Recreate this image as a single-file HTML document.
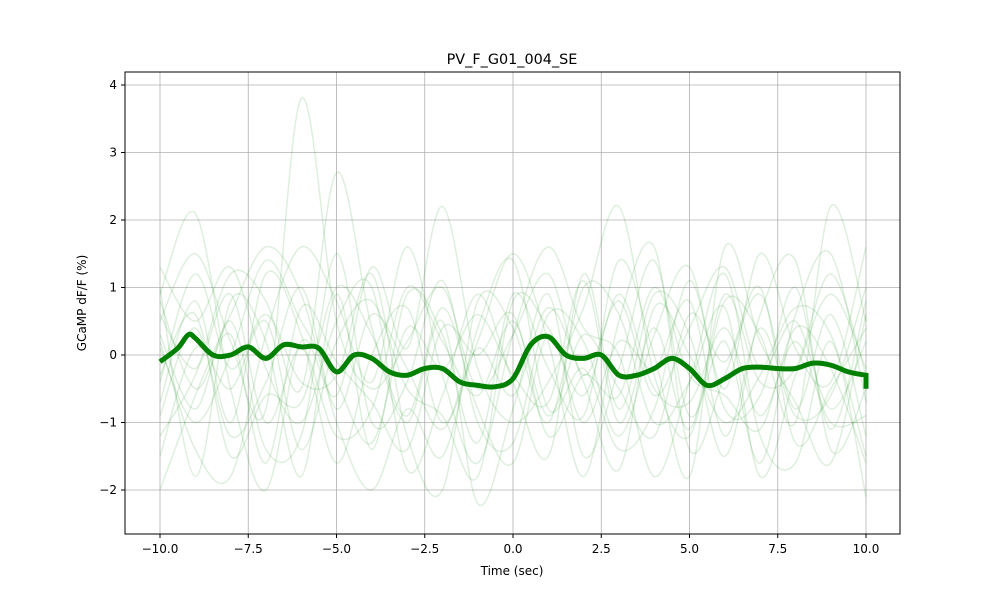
<!DOCTYPE html>
<html><head><meta charset="utf-8"><style>
body{margin:0;background:#fff;font-family:"Liberation Sans","DejaVu Sans",sans-serif}
svg text{font-family:"DejaVu Sans","Liberation Sans",sans-serif;font-size:12px;fill:#000}
</style></head><body>
<svg id="chart" width="1000" height="600">
<rect width="1000" height="600" fill="#fff"/>
<g id="grid"></g><g id="traces"></g><g id="mean"></g>
<rect x="125" y="72" width="775" height="462" fill="none" stroke="#000" stroke-width="1"/>
<g id="ticks"></g>
<text x="512" y="64" text-anchor="middle" style="font-size:14.4px">PV_F_G01_004_SE</text>
<text x="512" y="575" text-anchor="middle">Time (sec)</text>
<text transform="translate(86,303) rotate(-90)" text-anchor="middle">GCaMP dF/F (%)</text>
</svg>
<script>
const xTicks=[-10,-7.5,-5,-2.5,0,2.5,5,7.5,10];
const yTicks=[-2,-1,0,1,2,3,4];
const meanT=[-10,-9.5,-9.2,-9,-8.5,-8,-7.5,-7,-6.5,-6,-5.5,-5,-4.5,-4,-3.5,-3,-2.5,-2,-1.5,-1,-0.5,0,0.5,1,1.5,2,2.5,3,3.5,4,4.5,5,5.5,6,6.5,7,7.5,8,8.5,9,9.5,10];
const meanV=[-0.1,0.1,0.3,0.25,0.0,0.0,0.12,-0.05,0.15,0.12,0.1,-0.25,0.0,-0.05,-0.25,-0.3,-0.2,-0.2,-0.4,-0.45,-0.47,-0.35,0.15,0.27,0.0,-0.05,0.0,-0.3,-0.3,-0.2,-0.05,-0.2,-0.45,-0.35,-0.2,-0.18,-0.2,-0.2,-0.12,-0.15,-0.25,-0.3];
const trialT=[-10,-9,-8,-7,-6,-5,-4,-3,-2,-1,0,1,2,3,4,5,6,7,8,9,10];
const trial1=[0.5,1.5,0.2,-0.8,3.8,0.5,-0.5,0.2,1.0,-0.5,0.3,1.2,-0.3,0.8,-0.6,0.4,1.3,-0.2,0.5,-0.8,0.2];
const trial2=[-1.2,-0.3,1.2,0.8,-0.5,2.7,0.4,-1.0,0.5,-2.2,-0.8,0.9,-1.5,-0.2,1.4,-0.9,0.2,-1.6,0.6,1.5,-0.7];
const trial3=[0.9,2.1,-0.5,-2.0,0.2,-0.6,1.3,0.1,2.2,-0.2,-1.0,-0.4,0.7,2.2,-0.3,-1.2,0.8,0.3,-1.0,2.2,0.5];
const trial4=[-2.0,-0.6,0.6,1.6,0.9,-1.0,-2.0,-0.8,-1.5,0.4,1.4,-0.8,-0.2,-1.4,-0.8,1.1,-0.5,1.5,0.1,-0.4,1.6];
const trial5=[0.2,-1.4,-1.8,0.3,1.6,0.8,-0.4,1.6,-0.3,-1.6,0.3,1.6,0.4,0.0,-1.8,-0.4,1.2,-1.2,-1.6,0.2,-2.1];
const trial6=[1.3,0.5,1.3,-0.2,-1.0,0.5,1.0,-1.7,-0.6,0.9,-0.4,-1.5,1.2,-0.8,0.9,0.3,-1.5,0.6,1.4,-1.4,-0.5];
const trial7=[-0.7,0.8,-1.0,1.2,0.3,-1.6,0.0,0.7,-1.0,0.2,1.5,0.2,-1.8,0.5,1.6,-1.4,-0.3,0.9,-0.8,0.6,-1.2];
const trial8=[0.3,-0.8,0.5,-1.4,-1.2,1.5,-1.0,-0.4,1.1,-1.0,-1.3,0.6,0.2,-1.2,0.3,1.3,-0.8,-0.6,1.0,-1.1,0.8];
const trial9=[-0.4,1.2,-0.2,0.6,-0.4,-0.3,1.2,-1.2,-2.0,0.8,0.4,-1.0,1.0,0.6,-1.0,-0.4,0.7,-1.8,-0.3,0.9,-0.2];
const trial10=[1.0,-1.8,0.8,0.2,-1.8,0.9,-1.4,0.9,0.3,-1.3,0.9,-0.2,-0.9,1.4,0.0,-1.8,1.6,0.2,-0.7,-1.6,0.6];
const trial11=[-0.9,0.4,-1.2,-0.4,1.0,-0.8,0.6,-0.2,-1.1,0.1,-0.6,0.7,-0.4,-1.7,0.7,0.0,-1.0,-0.3,0.7,0.3,-1.5];
const trial12=[0.6,-0.2,0.9,-1.0,0.1,-1.2,-0.8,1.0,0.2,-0.6,0.5,-0.9,0.3,-0.5,-1.2,0.6,-0.1,1.0,-1.3,-0.5,0.4];
const trial13=[-1.5,0.1,-0.5,0.5,-1.4,0.2,0.8,-0.5,-0.9,-1.8,0.8,0.4,-0.6,0.9,-0.5,-0.7,0.4,-0.9,0.2,-1.0,-0.9];
const trial14=[0.1,-1.0,0.0,1.4,0.5,-0.4,-1.3,0.4,-0.2,0.6,-0.3,-0.7,1.1,-1.0,0.4,-1.1,0.9,-0.4,-0.2,1.2,-0.3];
const trial15=[-0.3,0.6,-1.5,-0.6,-0.7,1.0,0.3,-0.9,0.7,-0.8,-1.6,0.3,-1.0,0.2,-0.2,0.8,-1.2,0.4,-0.9,-0.6,1.0];
const trial16=[0.8,-0.5,0.3,-1.6,0.7,-0.1,-0.7,-1.4,0.4,0.0,0.6,-1.2,-0.3,-0.6,1.0,-0.3,-0.6,-1.1,0.4,-0.2,-1.6];
const trials=[trial1,trial2,trial3,trial4,trial5,trial6,trial7,trial8,trial9,trial10,trial11,trial12,trial13,trial14,trial15,trial16];
const X=t=>160+(t+10)*(866-160)/20;
const Y=v=>355-v*67.5;
const NS='http://www.w3.org/2000/svg';
function mk(tag,attrs,parent){const e=document.createElementNS(NS,tag);for(const k in attrs)e.setAttribute(k,attrs[k]);parent.appendChild(e);return e;}
function smooth(ts,vs){const p=ts.map((t,i)=>[X(t),Y(vs[i])]);let d='M'+p[0][0]+','+p[0][1];
for(let i=0;i<p.length-1;i++){const p0=p[Math.max(0,i-1)],p1=p[i],p2=p[i+1],p3=p[Math.min(p.length-1,i+2)];
d+=' C'+(p1[0]+(p2[0]-p0[0])/6)+','+(p1[1]+(p2[1]-p0[1])/6)+' '+(p2[0]-(p3[0]-p1[0])/6)+','+(p2[1]-(p3[1]-p1[1])/6)+' '+p2[0]+','+p2[1];}return d;}
const grid=document.getElementById('grid'),ticks=document.getElementById('ticks');
xTicks.forEach(t=>{
const g=mk('line',{x1:X(t),x2:X(t),y1:72,y2:534,stroke:'#b0b0b0','stroke-width':0.8},grid);

mk('line',{x1:X(t),x2:X(t),y1:534,y2:538,stroke:'#000'},ticks);
const tx=mk('text',{x:X(t),y:553,'text-anchor':'middle'},ticks);tx.textContent=(t<0?'\u2212':'')+Math.abs(t).toFixed(1);
});
yTicks.forEach(v=>{
const g=mk('line',{x1:125,x2:900,y1:Y(v),y2:Y(v),stroke:'#b0b0b0','stroke-width':0.8},grid);

mk('line',{x1:121,x2:125,y1:Y(v),y2:Y(v),stroke:'#000'},ticks);
const tx=mk('text',{x:117,y:Y(v)+4,'text-anchor':'end'},ticks);tx.textContent=(v<0?'\u2212':'')+Math.abs(v);
});
const tg=document.getElementById('traces');
trials.forEach(tr=>{const p=mk('path',{d:smooth(trialT,tr),fill:'none',stroke:'green','stroke-opacity':0.13,'stroke-width':1.5},tg);
});
const m=mk('path',{d:smooth(meanT,meanV)+' L'+X(10)+','+Y(-0.5),fill:'none',stroke:'green','stroke-width':5},document.getElementById('mean'));

</script>
</body></html>
